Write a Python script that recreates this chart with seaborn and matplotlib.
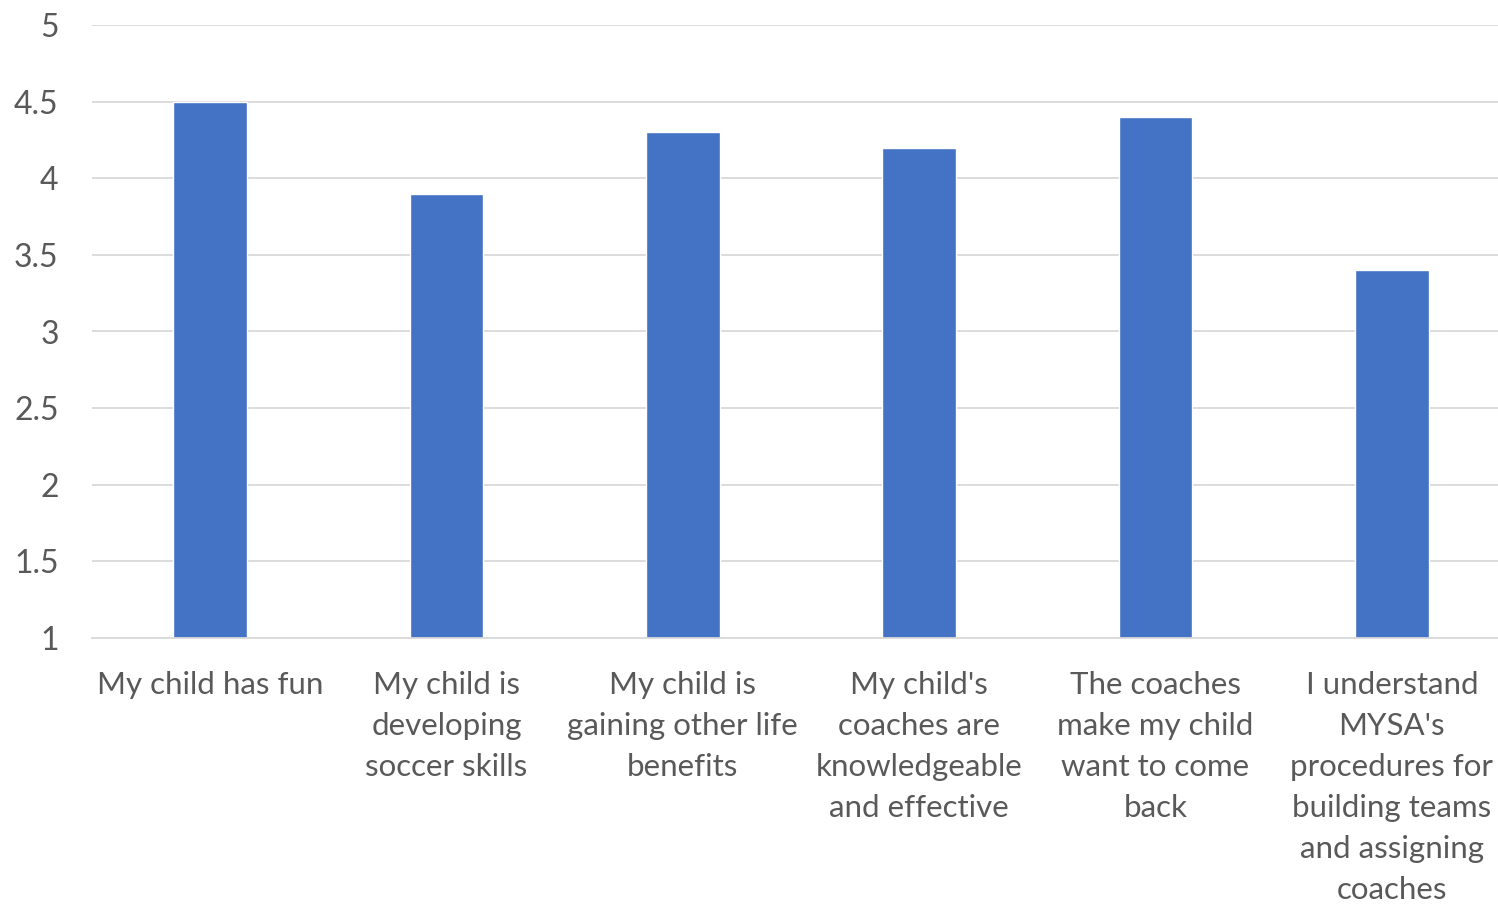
import matplotlib
matplotlib.use("Agg")
import matplotlib.pyplot as plt
import seaborn as sns
import pandas as pd

categories = [
    "My child has fun",
    "My child is\ndeveloping\nsoccer skills",
    "My child is\ngaining other life\nbenefits",
    "My child's\ncoaches are\nknowledgeable\nand effective",
    "The coaches\nmake my child\nwant to come\nback",
    "I understand\nMYSA's\nprocedures for\nbuilding teams\nand assigning\ncoaches",
]
values = [4.5, 3.9, 4.3, 4.2, 4.4, 3.4]
yticks = [1, 1.5, 2, 2.5, 3, 3.5, 4, 4.5, 5]
ytick_labels = ["1", "1.5", "2", "2.5", "3", "3.5", "4", "4.5", "5"]

sns.set_theme(style="white")
plt.rcParams['font.family'] = ['Lato', 'DejaVu Sans']

df = pd.DataFrame({"cat": categories, "val": values})

fig = plt.figure(figsize=(14.98, 9.05), dpi=100)
ax = fig.add_axes([92/1498, 1 - 638/905, (1510 - 92)/1498, (638 - 25)/905])

sns.barplot(data=df, x="cat", y="val", color="#4472C4", width=0.313, ax=ax,
            saturation=1)
ax.set_ylim(1, 5)
ax.set_xlim(-0.5, len(categories) - 0.5)
ax.set_yticks(yticks)
ax.set_yticklabels(ytick_labels)
ax.yaxis.grid(True, color="#d9d9d9", linewidth=1.3)
ax.set_axisbelow(True)
for s in ["top", "right", "left"]:
    ax.spines[s].set_visible(False)
ax.spines["bottom"].set_color("#d9d9d9")
ax.spines["bottom"].set_linewidth(1.3)
ax.tick_params(axis="y", length=0, pad=24, labelsize=23, labelcolor="#595959")
ax.tick_params(axis="x", length=0, pad=23.5, labelsize=22.5, labelcolor="#595959")
for lab in ax.get_xticklabels():
    lab.set_linespacing(1.57)
ax.set_xlabel("")
ax.set_ylabel("")

fig.savefig("out.png", dpi=100)
